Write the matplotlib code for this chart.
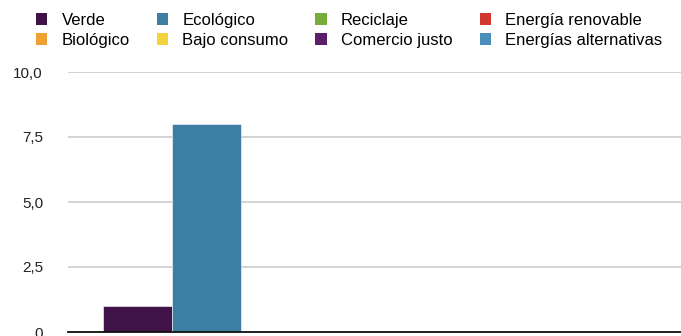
import matplotlib
matplotlib.use("Agg")
import matplotlib.pyplot as plt
from matplotlib.patches import Patch
from matplotlib.ticker import FuncFormatter

plt.rcParams['font.family'] = ['Liberation Sans', 'DejaVu Sans']

series = ["Verde", "Ecológico", "Reciclaje", "Energía renovable",
          "Biológico", "Bajo consumo", "Comercio justo", "Energías alternativas"]
values = [1, 8, 0, 0, 0, 0, 0, 0]
colors = ["#3f1248", "#3c7fa3", "#78ad3c", "#d2382f",
          "#f0a032", "#f3d23c", "#5b1f68", "#4a8db8"]
y_ticks = [0, 2.5, 5.0, 7.5, 10.0]

W, H = 681, 336
fig = plt.figure(figsize=(W / 100, H / 100), dpi=100)
# plot area: left edge at x=68, spills slightly past the right and bottom edges
ax = fig.add_axes([68 / W, 4 / H, 622 / W, 260 / H])

n = len(series)
bar_w = 0.111
for i, (name, v, c) in enumerate(zip(series, values, colors)):
    x = (i - (n - 1) / 2) * bar_w
    ax.bar(x, v, width=bar_w, color=c, edgecolor="white", linewidth=0.4,
           label=name, zorder=3)

ax.set_xlim(-0.5, 0.5)
ax.set_ylim(0, 10)
ax.set_yticks(y_ticks)
ax.yaxis.set_major_formatter(FuncFormatter(
    lambda v, _: "0" if v == 0 else f"{v:.1f}".replace(".", ",")))
ax.tick_params(axis="y", length=0, pad=18, labelsize=11, colors="#222222")
ax.set_xticks([])
ax.grid(axis="y", color="#cccccc", linewidth=1.2, zorder=0)
for s in ("top", "right", "left"):
    ax.spines[s].set_visible(False)
ax.spines["bottom"].set_color("#111111")
ax.spines["bottom"].set_linewidth(1.3)
ax.spines["bottom"].set_zorder(4)

handles = [Patch(facecolor=c, edgecolor="none") for c in colors]
# legend laid out row-wise in 4 columns
order = [0, 4, 1, 5, 2, 6, 3, 7]
fig.legend([handles[i] for i in order], [series[i] for i in order],
           ncol=4, loc="upper left", bbox_to_anchor=(36 / W, 1 - 13 / H),
           frameon=False, fontsize=12, handlelength=0.68, handleheight=0.68,
           handletextpad=0.85, columnspacing=1.62, labelspacing=0.3,
           borderpad=0, borderaxespad=0)

fig.savefig("out.png", dpi=100)
